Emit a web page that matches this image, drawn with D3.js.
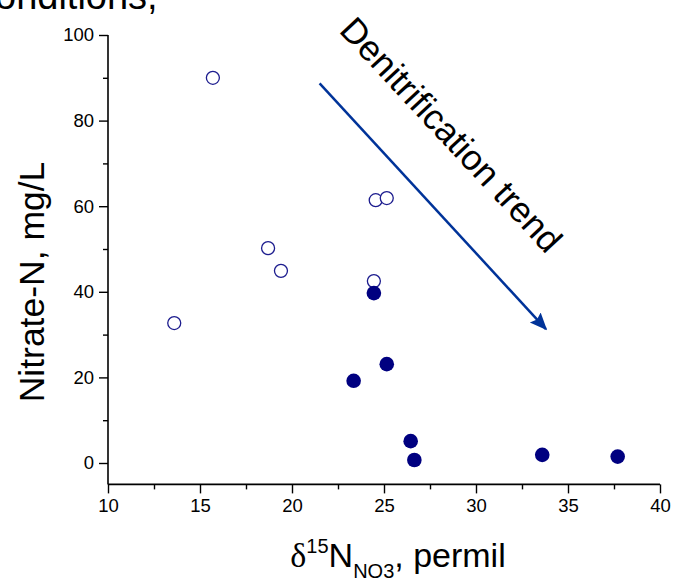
<!DOCTYPE html>
<html>
<head>
<meta charset="utf-8">
<script src="https://cdn.jsdelivr.net/npm/d3@7"></script>
<style>
  html, body { margin: 0; padding: 0; background: #fff; }
  svg { display: block; }
  text { font-family: "Liberation Sans", Arial, sans-serif; }
</style>
</head>
<body>
<svg id="chart" width="673" height="582"></svg>
<script>
// ---- data ----
const openX = [15.7, 13.6, 18.7, 19.4, 24.55, 25.15, 24.45];
const openY = [90.0, 32.7, 50.2, 44.9, 61.4, 61.9, 42.5];
const filledX = [24.45, 23.35, 25.15, 26.45, 26.65, 33.6, 37.7];
const filledY = [39.7, 19.2, 23.1, 5.1, 0.7, 1.9, 1.5];
const xTicks = [10, 15, 20, 25, 30, 35, 40];
const xMinor = [12.5, 17.5, 22.5, 27.5, 32.5, 37.5];
const yTicks = [0, 20, 40, 60, 80, 100];
const yMinor = [10, 30, 50, 70, 90];
const arrowFrom = [21.5, 88.7];
const arrowTo = [33.8, 31.3];
const trendLabel = "Denitrification trend";
const labelAnchor = [22.5, 100.9];

const svg = d3.select("#chart");
const x = d3.scaleLinear().domain([10, 40]).range([108, 660]);
const y = d3.scaleLinear().domain([-5, 100]).range([484.4, 35]);

// clipped heading text at top (cut off in the reference too)
svg.append("text").attr("x", -5).attr("y", 9)
  .attr("font-size", 38).attr("fill", "#000").text("onditions,");

// axes
const xAxis = svg.append("g").attr("transform", `translate(0,${y(-5)})`)
  .call(d3.axisBottom(x).tickValues(xTicks).tickSize(9).tickPadding(5).tickFormat(d3.format("d")));
const xAxisMinor = svg.append("g").attr("transform", `translate(0,${y(-5)})`)
  .call(d3.axisBottom(x).tickValues(xMinor).tickSize(5).tickFormat(""));
const yAxis = svg.append("g").attr("transform", `translate(${x(10)},0)`)
  .call(d3.axisLeft(y).tickValues(yTicks).tickSize(9).tickPadding(5).tickFormat(d3.format("d")));
const yAxisMinor = svg.append("g").attr("transform", `translate(${x(10)},0)`)
  .call(d3.axisLeft(y).tickValues(yMinor).tickSize(5).tickFormat(""));

[xAxis, xAxisMinor, yAxis, yAxisMinor].forEach(g => {
  g.select(".domain").attr("stroke", "#000").attr("stroke-width", 1.6);
  g.selectAll(".tick line").attr("stroke", "#000").attr("stroke-width", 1.4);
  g.selectAll(".tick text").attr("font-size", 18.5)
    .attr("font-family", '"Liberation Sans", Arial, sans-serif').attr("fill", "#000");
});
xAxisMinor.select(".domain").remove();
yAxisMinor.select(".domain").remove();
xAxis.select(".domain").attr("d", `M${x(10)},0H${x(40)}`);
yAxis.select(".domain").attr("d", `M0,${y(100)}V${y(-5)}`);

// axis titles
svg.append("text")
  .attr("transform", `translate(44,${282}) rotate(-90)`)
  .attr("text-anchor", "middle").attr("font-size", 35.5).attr("fill", "#000")
  .text("Nitrate-N, mg/L");

const xt = svg.append("text").attr("x", 398).attr("y", 567)
  .attr("text-anchor", "middle").attr("font-size", 34).attr("fill", "#000");
xt.append("tspan").attr("font-family", '"Liberation Serif", "Times New Roman", serif').text("δ");
xt.append("tspan").attr("font-size", 20).attr("dy", -14).text("15");
xt.append("tspan").attr("dy", 14).text("N");
xt.append("tspan").attr("font-size", 20).attr("dy", 11).text("NO3");
xt.append("tspan").attr("dy", -11).text(", permil");

// points
const openPts = openX.map((v, i) => ({ x: v, y: openY[i] }));
const filledPts = filledX.map((v, i) => ({ x: v, y: filledY[i] }));

svg.append("g").selectAll("circle").data(openPts).join("circle")
  .attr("cx", d => x(d.x)).attr("cy", d => y(d.y)).attr("r", 6.5)
  .attr("fill", "#fff").attr("stroke", "#1c1c8e").attr("stroke-width", 1.3);

svg.append("g").selectAll("circle").data(filledPts).join("circle")
  .attr("cx", d => x(d.x)).attr("cy", d => y(d.y)).attr("r", 7.3)
  .attr("fill", "#000080");

// trend arrow
const defs = svg.append("defs");
defs.append("marker").attr("id", "ah").attr("viewBox", "0 0 10 10")
  .attr("refX", 9).attr("refY", 5).attr("markerWidth", 7).attr("markerHeight", 7)
  .attr("markerUnits", "strokeWidth").attr("orient", "auto")
  .append("path").attr("d", "M0,0.8 L10,5 L0,9.2 L1.5,5 Z").attr("fill", "#003399");

svg.append("line")
  .attr("x1", x(arrowFrom[0])).attr("y1", y(arrowFrom[1]))
  .attr("x2", x(arrowTo[0])).attr("y2", y(arrowTo[1]))
  .attr("stroke", "#003399").attr("stroke-width", 2.5)
  .attr("marker-end", "url(#ah)");

svg.append("text")
  .attr("transform", `translate(${x(labelAnchor[0])},${y(labelAnchor[1])}) rotate(47)`)
  .attr("font-size", 35.5).attr("fill", "#000").text(trendLabel);
</script>
</body>
</html>
